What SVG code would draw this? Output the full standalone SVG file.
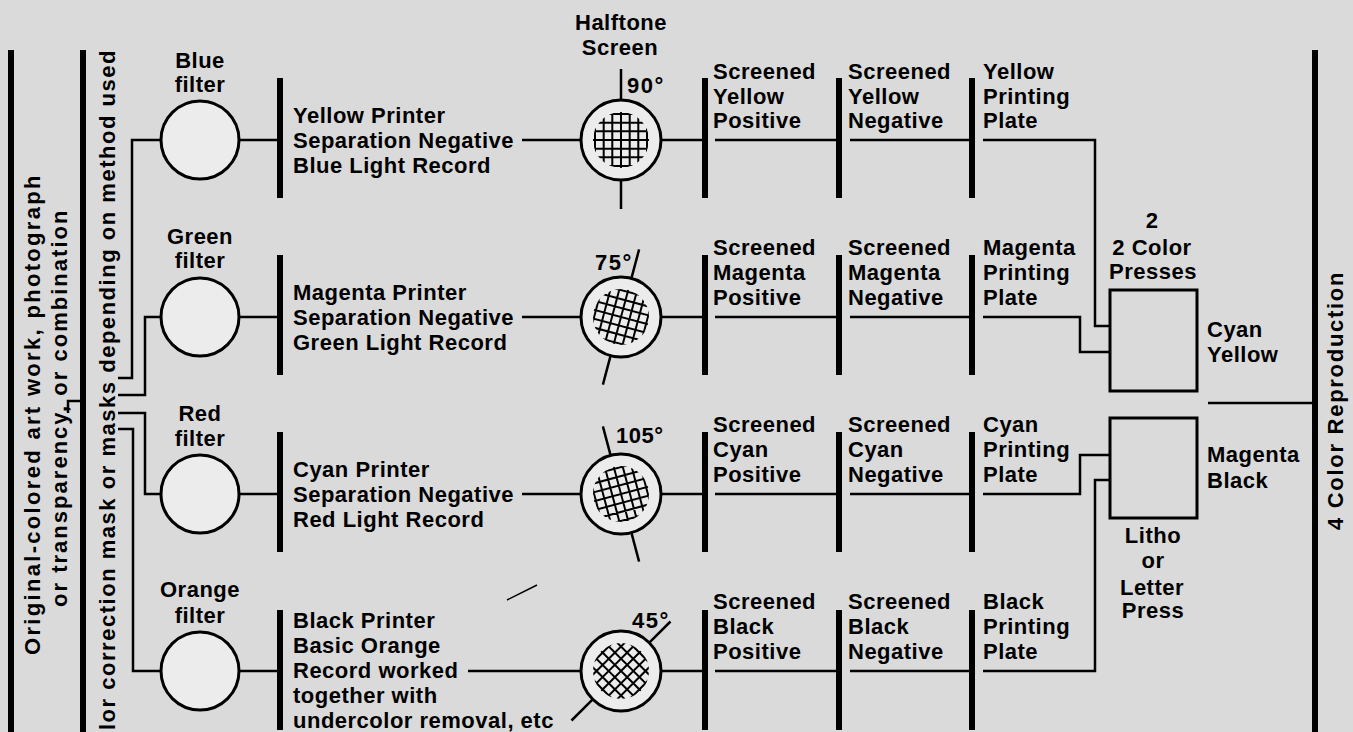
<svg xmlns="http://www.w3.org/2000/svg" xmlns:xlink="http://www.w3.org/1999/xlink" width="1353" height="732" viewBox="0 0 1353 732">
<style>
.t{font-family:"Liberation Sans",Arial,sans-serif;font-weight:bold;font-size:22px;fill:#000;letter-spacing:0.5px}
.c{text-anchor:middle}
.ln{stroke:#000;stroke-width:2.5;fill:none}
.thin{stroke:#000;stroke-width:1.5;fill:none}
.bar{fill:#000}
.circ{fill:#ececec;stroke:#000;stroke-width:3}
.box{fill:none;stroke:#000;stroke-width:3}
.gl{stroke:#000;stroke-width:2}
</style>
<defs>
<g id="grid">
<path class="gl" d="M-26,-36V36M-17.3,-36V36M-8.7,-36V36M0,-36V36M8.7,-36V36M17.3,-36V36M26,-36V36M-36,-26H36M-36,-17.3H36M-36,-8.7H36M-36,0H36M-36,8.7H36M-36,17.3H36M-36,26H36"/>
</g>
<clipPath id="gc"><circle cx="0" cy="0" r="28"/></clipPath>
</defs>
<rect width="1353" height="732" fill="#dadada"/>

<g id="source">
<rect class="bar" x="8" y="50" width="6" height="682"/>
<text class="t" transform="translate(40,655) rotate(-90)" textLength="480" lengthAdjust="spacing">Original-colored art work, photograph</text>
<text class="t" transform="translate(67,607) rotate(-90)" textLength="397" lengthAdjust="spacing">or transparency, or combination</text>
</g>
<g id="masks">
<rect class="bar" x="80" y="50" width="6" height="682"/>
<text class="t" transform="translate(115,730) rotate(-90)" textLength="680" lengthAdjust="spacing">lor correction mask or masks depending on method used</text>
</g>

<g id="blue-filter">
<circle class="circ" cx="200" cy="140" r="39"/>
<text class="t c" x="200" y="68">Blue</text>
<text class="t c" x="200" y="92">filter</text>
</g>
<g id="green-filter">
<circle class="circ" cx="200" cy="317" r="39"/>
<text class="t c" x="200" y="244">Green</text>
<text class="t c" x="200" y="268">filter</text>
</g>
<g id="red-filter">
<circle class="circ" cx="200" cy="494" r="39"/>
<text class="t c" x="200" y="421">Red</text>
<text class="t c" x="200" y="446">filter</text>
</g>
<g id="orange-filter">
<circle class="circ" cx="200" cy="671" r="39"/>
<text class="t c" x="200" y="597">Orange</text>
<text class="t c" x="200" y="623">filter</text>
</g>

<g id="sep-yellow">
<rect class="bar" x="277" y="78" width="6" height="120"/>
<text class="t" x="293" y="123">Yellow Printer</text>
<text class="t" x="293" y="148">Separation Negative</text>
<text class="t" x="293" y="173">Blue Light Record</text>
</g>
<g id="sep-magenta">
<rect class="bar" x="277" y="255" width="6" height="120"/>
<text class="t" x="293" y="300">Magenta Printer</text>
<text class="t" x="293" y="325">Separation Negative</text>
<text class="t" x="293" y="350">Green Light Record</text>
</g>
<g id="sep-cyan">
<rect class="bar" x="277" y="432" width="6" height="120"/>
<text class="t" x="293" y="477">Cyan Printer</text>
<text class="t" x="293" y="502">Separation Negative</text>
<text class="t" x="293" y="527">Red Light Record</text>
</g>
<g id="sep-black">
<rect class="bar" x="277" y="610" width="6" height="120"/>
<text class="t" x="293" y="628">Black Printer</text>
<text class="t" x="293" y="653">Basic Orange</text>
<text class="t" x="293" y="678">Record worked</text>
<text class="t" x="293" y="703">together with</text>
<text class="t" x="293" y="728">undercolor removal, etc</text>
</g>

<g id="screen-90">
<text class="t c" x="621" y="30">Halftone</text>
<text class="t c" x="620" y="55">Screen</text>
<circle class="circ" cx="621" cy="140" r="40"/>
<g transform="translate(621,140)" clip-path="url(#gc)"><use xlink:href="#grid"/></g>
<path class="ln" d="M621,69V100M621,180V209"/>
<text class="t" x="627" y="93" style="letter-spacing:1.5px">90°</text>
</g>
<g id="screen-75">
<circle class="circ" cx="621" cy="317" r="40"/>
<g transform="translate(621,317)" clip-path="url(#gc)"><use xlink:href="#grid" transform="rotate(15)"/></g>
<path class="ln" d="M631.4,278.4L639.1,249.4M610.6,355.6L602.9,384.6"/>
<text class="t" x="595" y="270" style="letter-spacing:1.5px">75°</text>
</g>
<g id="screen-105">
<circle class="circ" cx="621" cy="494" r="40"/>
<g transform="translate(621,494)" clip-path="url(#gc)"><use xlink:href="#grid" transform="rotate(-15)"/></g>
<path class="ln" d="M610.6,455.4L602.9,426.4M631.4,532.6L639.1,561.6"/>
<text class="t" x="616" y="443" style="letter-spacing:0.5px">105°</text>
</g>
<g id="screen-45">
<circle class="circ" cx="621" cy="671" r="40"/>
<g transform="translate(621,671)" clip-path="url(#gc)"><use xlink:href="#grid" transform="rotate(45)"/></g>
<path class="ln" d="M649.3,642.7L670.5,621.5M592.7,699.3L571.5,720.5"/>
<text class="t" x="632" y="628" style="letter-spacing:1.5px">45°</text>
</g>

<g id="screened-positives">
<rect class="bar" x="702" y="78" width="6" height="120"/>
<rect class="bar" x="702" y="255" width="6" height="120"/>
<rect class="bar" x="702" y="432" width="6" height="120"/>
<rect class="bar" x="702" y="610" width="6" height="120"/>
<text class="t" x="713" y="79">Screened</text><text class="t" x="713" y="104">Yellow</text><text class="t" x="713" y="128">Positive</text>
<text class="t" x="713" y="255">Screened</text><text class="t" x="713" y="280">Magenta</text><text class="t" x="713" y="305">Positive</text>
<text class="t" x="713" y="432">Screened</text><text class="t" x="713" y="457">Cyan</text><text class="t" x="713" y="482">Positive</text>
<text class="t" x="713" y="609">Screened</text><text class="t" x="713" y="634">Black</text><text class="t" x="713" y="659">Positive</text>
</g>
<g id="screened-negatives">
<rect class="bar" x="836" y="78" width="6" height="120"/>
<rect class="bar" x="836" y="255" width="6" height="120"/>
<rect class="bar" x="836" y="432" width="6" height="120"/>
<rect class="bar" x="836" y="610" width="6" height="120"/>
<text class="t" x="848" y="79">Screened</text><text class="t" x="848" y="104">Yellow</text><text class="t" x="848" y="128">Negative</text>
<text class="t" x="848" y="255">Screened</text><text class="t" x="848" y="280">Magenta</text><text class="t" x="848" y="305">Negative</text>
<text class="t" x="848" y="432">Screened</text><text class="t" x="848" y="457">Cyan</text><text class="t" x="848" y="482">Negative</text>
<text class="t" x="848" y="609">Screened</text><text class="t" x="848" y="634">Black</text><text class="t" x="848" y="659">Negative</text>
</g>
<g id="printing-plates">
<rect class="bar" x="969" y="78" width="6" height="120"/>
<rect class="bar" x="969" y="255" width="6" height="120"/>
<rect class="bar" x="969" y="432" width="6" height="120"/>
<rect class="bar" x="969" y="610" width="6" height="120"/>
<text class="t" x="983" y="79">Yellow</text><text class="t" x="983" y="104">Printing</text><text class="t" x="983" y="128">Plate</text>
<text class="t" x="983" y="255">Magenta</text><text class="t" x="983" y="280">Printing</text><text class="t" x="983" y="305">Plate</text>
<text class="t" x="983" y="432">Cyan</text><text class="t" x="983" y="457">Printing</text><text class="t" x="983" y="482">Plate</text>
<text class="t" x="983" y="609">Black</text><text class="t" x="983" y="634">Printing</text><text class="t" x="983" y="659">Plate</text>
</g>

<g id="two-color-press">
<text class="t c" x="1152" y="228">2</text>
<text class="t c" x="1152" y="255">2 Color</text>
<text class="t c" x="1153" y="279">Presses</text>
<rect class="box" x="1110" y="290" width="87" height="101"/>
<text class="t" x="1207" y="337">Cyan</text>
<text class="t" x="1207" y="362">Yellow</text>
</g>
<g id="litho-press">
<rect class="box" x="1110" y="418" width="87" height="100"/>
<text class="t" x="1207" y="462">Magenta</text>
<text class="t" x="1207" y="488">Black</text>
<text class="t c" x="1153" y="543">Litho</text>
<text class="t c" x="1153" y="568">or</text>
<text class="t c" x="1152" y="595">Letter</text>
<text class="t c" x="1153" y="618">Press</text>
</g>
<g id="reproduction">
<rect class="bar" x="1312" y="50" width="6" height="682"/>
<text class="t" transform="translate(1343,530) rotate(-90)" textLength="258" lengthAdjust="spacing">4 Color Reproduction</text>
</g>

<g id="connectors">
<path class="ln" d="M68,413V401H83"/>
<path class="ln" d="M118,378H132V140H161"/>
<path class="ln" d="M118,395H145V317H161"/>
<path class="ln" d="M118,413H145V494H161"/>
<path class="ln" d="M118,429H133V671H161"/>
<path class="ln" d="M239,140H280M239,317H280M239,494H280M239,671H280"/>
<path class="ln" d="M522,140H581M522,317H581M522,494H581M468,671H581"/>
<path class="ln" d="M661,140H705M661,317H705M661,494H705M661,671H705"/>
<path class="ln" d="M715,140H839M715,317H839M715,494H839M715,671H839"/>
<path class="ln" d="M850,140H972M850,317H972M850,494H972M850,671H972"/>
<path class="ln" d="M983,140H1095V326H1110"/>
<path class="ln" d="M983,317H1080V352H1110"/>
<path class="ln" d="M983,494H1080V455H1110"/>
<path class="ln" d="M983,671H1095V480H1110"/>
<path class="ln" d="M1208,403H1315"/>
<path class="thin" d="M507,600L537,585"/>
</g>
</svg>
